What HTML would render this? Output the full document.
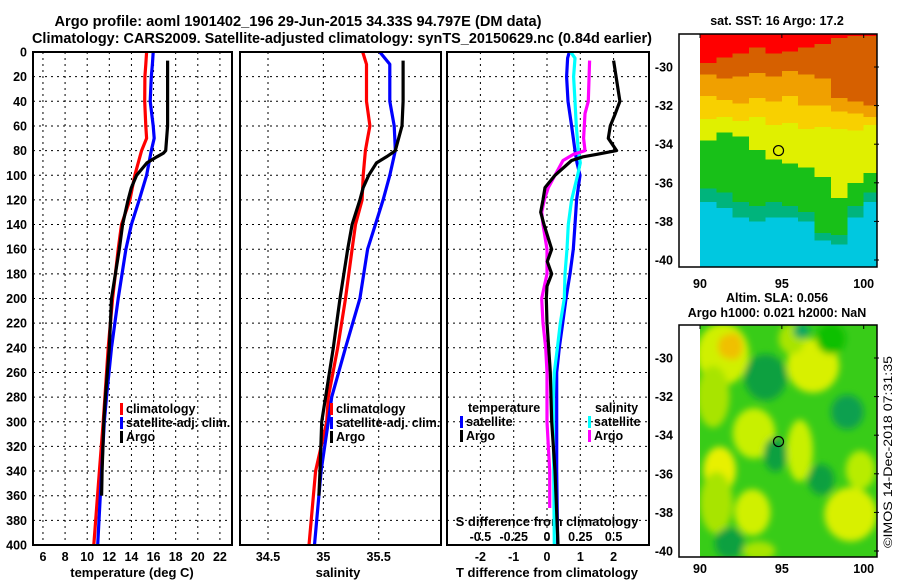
<!DOCTYPE html>
<html><head><meta charset="utf-8"><style>
html,body{margin:0;padding:0;background:#fff;}
svg{display:block;font-family:"Liberation Sans",sans-serif;font-weight:bold;}
</style></head><body>
<svg id="chart" width="900" height="580" viewBox="0 0 900 580" xmlns="http://www.w3.org/2000/svg">
<text x="298" y="26" font-size="14.5" text-anchor="middle" textLength="487" lengthAdjust="spacingAndGlyphs">Argo profile: aoml 1901402_196 29-Jun-2015 34.33S 94.797E (DM data)</text>
<text x="342" y="43" font-size="14.5" text-anchor="middle" textLength="620" lengthAdjust="spacingAndGlyphs">Climatology: CARS2009. Satellite-adjusted climatology: synTS_20150629.nc (0.84d earlier)</text>
<g id="layer"></g>
<text transform="translate(892,548) rotate(-90)" font-size="12" font-weight="normal" textLength="192" lengthAdjust="spacingAndGlyphs">©IMOS 14-Dec-2018 07:31:35</text>
</svg>
<script>
// ---------- data ----------
const depthTicks=[0,20,40,60,80,100,120,140,160,180,200,220,240,260,280,300,320,340,360,380,400];
const tempTicks=[6,8,10,12,14,16,18,20,22];
const salTicks=[34.5,35,35.5];
const tdiffTicks=[-2,-1,0,1,2];
const sdiffTicks=[-0.5,-0.25,0,0.25,0.5];
const sdiffLabels=["-0.5","-0.25","0","0.25","0.5"];

const climDepth=[0,10,20,40,60,70,80,100,120,140,160,200,240,280,300,340,400];
const climTemp=[15.37,15.3,15.22,15.2,15.3,15.37,14.92,14.3,13.86,13.1,12.8,12.3,11.9,11.6,11.45,11.1,10.6];
const satTemp=[15.97,15.9,15.8,15.7,15.97,16.06,15.8,15.37,14.7,14.0,13.5,12.8,12.2,11.75,11.55,11.3,10.95];
const argoDepth=[7,20,40,60,80,82,85,90,100,110,120,140,160,200,240,280,300,340,360];
const argoTemp=[17.27,17.27,17.27,17.27,17.1,16.9,16.3,15.4,14.47,14.0,13.7,13.2,12.9,12.2,12.0,11.65,11.5,11.35,11.3];

const climSal=[35.355,35.39,35.39,35.39,35.42,35.4,35.38,35.36,35.35,35.29,35.26,35.2,35.13,35.045,35.03,34.93,34.87];
const satSal=[35.51,35.6,35.6,35.6,35.64,35.645,35.65,35.6,35.54,35.47,35.4,35.33,35.2,35.075,35.045,34.98,34.92];
const argoSal=[35.72,35.72,35.72,35.71,35.65,35.62,35.57,35.48,35.41,35.36,35.33,35.26,35.22,35.15,35.09,35.02,34.985,34.97,34.96];

const dDepth=[0,5,20,40,60,80,90,100,120,140,160,180,200,220,240,260,280,300,340,400];
const satTdiff=[0.67,0.62,0.59,0.63,0.74,0.84,0.9,0.99,0.89,0.84,0.79,0.69,0.57,0.47,0.37,0.29,0.29,0.29,0.29,0.32];
const satSdiff=[0.178,0.21,0.2,0.21,0.22,0.235,0.25,0.23,0.185,0.16,0.15,0.135,0.13,0.1,0.078,0.055,0.047,0.047,0.05,0.055];
const argoDDepth=[7,40,50,60,70,80,83,85,88,100,110,120,130,140,160,170,180,190,200,220,240,260,300,340,400];
const argoTdiff=[2.0,2.19,2.05,1.9,1.84,2.09,1.5,1.08,0.74,0.24,-0.06,-0.12,-0.19,-0.09,0.14,0.01,0.14,0.0,-0.02,0.0,0.05,0.1,0.14,0.24,0.33];
const argoSdepth=[7,40,50,70,80,83,88,100,110,120,130,140,160,180,200,220,240,260,300,340,370];
const argoSdiff=[0.32,0.31,0.285,0.275,0.285,0.2,0.12,0.06,0.01,-0.02,-0.04,-0.03,0.0,0.0,-0.04,-0.03,-0.01,0.0,0.0,0.02,0.02];

// top map bands: boundary latitudes per longitude column
const mapLons=[90,91,92,93,94,95,96,97,98,99,100,101];
const bandColors=["#ff0000","#d66000","#f0a000","#f8d000","#e0f000","#18c018","#00b47c","#00c8e0"];
const bandBounds=[
 [-29.8,-29.5,-29.3,-29.0,-29.3,-29.2,-29.0,-28.8,-28.5,-28.4,-28.4,-28.4],
 [-30.4,-30.6,-30.5,-30.3,-30.5,-30.2,-30.4,-30.6,-31.6,-31.8,-32.0,-32.3],
 [-31.5,-31.7,-31.9,-31.6,-31.8,-31.5,-32.0,-32.0,-32.3,-32.4,-32.6,-32.6],
 [-32.7,-32.6,-32.8,-32.6,-33.0,-32.9,-33.2,-33.1,-33.2,-33.3,-33.0,-32.9],
 [-33.8,-33.4,-33.6,-34.3,-34.8,-35.0,-35.2,-35.7,-36.8,-36.0,-35.5,-35.3],
 [-36.3,-36.5,-37.0,-37.2,-37.0,-37.2,-37.5,-38.6,-38.7,-37.2,-36.5,-36.3],
 [-37.0,-37.3,-37.8,-38.0,-37.8,-37.8,-38.0,-39.0,-39.2,-37.8,-37.0,-36.8]
];
// bottom map SLA blobs
const blobLon=[91.4,90.8,96.9,93.3,91.2,93.2,99.2,96.1,95.6,91.0,99.8,92.0,91.6,94.0,94.6,99.0,97.4,91.8,96.2,98.0,93.6];
const blobLat=[-29.8,-32.0,-30.4,-33.9,-35.8,-38.0,-38.1,-34.8,-29.0,-37.5,-35.8,-29.4,-29.4,-31.0,-35.0,-32.8,-36.3,-39.6,-28.6,-29.0,-40.0];
const blobRx=[1.6,1.0,1.6,1.3,1.0,1.1,1.6,0.8,0.8,1.0,0.9,0.6,0.5,1.3,0.7,1.0,0.8,0.9,0.5,0.9,1.0];
const blobRy=[1.6,1.6,1.4,1.3,1.2,1.2,1.4,1.6,0.8,1.6,1.0,0.7,0.6,1.2,0.9,0.9,0.8,0.8,0.4,0.8,0.5];
const blobCol=["#d0f000","#a8e400","#d8f000","#c8f000","#e8f000","#d0f000","#d8f000","#c8f000","#a8e400","#a8e400","#b8ec00","#f0c000","#f0c000","#10a040","#10a040","#10a050","#10a040","#10a040","#10a860","#10c000","#a8e400"];

// ---------- scales ----------
const yD=d=>52+d*1.2325;
const xT=t=>33+(t-5.1)*11.06;
const xS=s=>240+(s-34.247)*110.7;
const xTd=t=>547+t*33.3;
const xSd=s=>547+s*133.2;
const mxLon=l=>700+(l-90)*16.37;
const myTop=l=>67+(-30-l)*19.3;
const myBot=l=>358+(-30-l)*19.3;

const NS="http://www.w3.org/2000/svg";
const layer=document.getElementById('layer');
function mk(tag,attrs,parent){const e=document.createElementNS(NS,tag);for(const k in attrs)e.setAttribute(k,attrs[k]);(parent||layer).appendChild(e);return e;}
function txt(x,y,s,anchor,size,parent){const e=mk('text',{x:x,y:y,'font-size':size||12,'text-anchor':anchor||'middle'},parent);e.textContent=s;return e;}

// ---------- profile panels ----------
const panels=[{x0:33,x1:232},{x0:240,x1:441},{x0:447,x1:649}];
panels.forEach((p,i)=>{
  const g=mk('g',{});
  
  
  depthTicks.forEach(d=>{
    if(d>0&&d<400){const l=mk('line',{x1:p.x0,x2:p.x1,y1:yD(d),y2:yD(d),stroke:'#000','stroke-width':1,'stroke-dasharray':'2,4'},g);
    
    }
  });
});
function vgrid(ticks,fx,x0,x1){ticks.forEach(t=>{const x=fx(t);if(x>x0+2&&x<x1-2){const l=mk('line',{x1:x,x2:x,y1:52,y2:545,stroke:'#000','stroke-width':1,'stroke-dasharray':'2,4'});

}});}
vgrid(tempTicks,xT,33,232);vgrid(salTicks,xS,240,441);vgrid(tdiffTicks,xTd,447,649);

depthTicks.forEach(d=>{const t=txt(27,yD(d)+4.5,String(d),'end',12.5);

});
tempTicks.forEach(v=>{const t=txt(xT(v),561,String(v),'middle',12.5);

});
salTicks.forEach(v=>{const t=txt(xS(v),561,String(v),'middle',12.5);

});
tdiffTicks.forEach(v=>{const t=txt(xTd(v),561,String(v),'middle',12.5);

});
sdiffTicks.forEach((v,i)=>{const t=txt(xSd(v),541,sdiffLabels[i],'middle',12.5);

});
let at=txt(132,577,'temperature (deg C)','middle',13);


at=txt(338,577,'salinity','middle',13);


at=txt(547,577,'T difference from climatology','middle',13);


at=txt(547,526,'S difference from climatology','middle',13);



function line(depths,vals,fx,color,name){
  const pts=depths.map((d,i)=>fx(vals[i]).toFixed(1)+','+yD(d).toFixed(1)).join(' ');
  const e=mk('polyline',{points:pts,fill:'none',stroke:color,'stroke-width':3.2,'stroke-linejoin':'round'});
  
  
}
line(climDepth,climTemp,xT,'#ff0000','climatology-temperature-line');
line(climDepth,satTemp,xT,'#0000ff','satellite-temperature-line');
line(argoDepth,argoTemp,xT,'#000','argo-temperature-line');
line(climDepth,climSal,xS,'#ff0000','climatology-salinity-line');
line(climDepth,satSal,xS,'#0000ff','satellite-salinity-line');
line(argoDepth,argoSal,xS,'#000','argo-salinity-line');
line(dDepth,satTdiff,xTd,'#0000ff','satellite-tdiff-line');
line(dDepth,satSdiff,xSd,'#00ffff','satellite-sdiff-line');
line(argoSdepth,argoSdiff,xSd,'#ff00ff','argo-sdiff-line');
line(argoDDepth,argoTdiff,xTd,'#000','argo-tdiff-line');

panels.forEach(p=>{const r=mk('rect',{x:p.x0,y:52,width:p.x1-p.x0,height:493,fill:'none',stroke:'#000','stroke-width':2});

});

function legend(x,y,color,label,name){
  const g=mk('g',{});
  
  
  mk('rect',{x:x,y:y-10,width:3,height:12,fill:color},g);
  txt(x+6,y,label,'start',12.5,g);
}
legend(120,413,'#ff0000','climatology','legend-climatology-temp');
legend(120,427,'#0000ff','satellite-adj. clim.','legend-satellite-temp');
legend(120,441,'#000','Argo','legend-argo-temp');
legend(330,413,'#ff0000','climatology','legend-climatology-sal');
legend(330,427,'#0000ff','satellite-adj. clim.','legend-satellite-sal');
legend(330,441,'#000','Argo','legend-argo-sal');
let lt=txt(468,412,'temperature','start',12.5);


legend(460,426,'#0000ff','satellite','legend-satellite-tdiff');
legend(460,440,'#000','Argo','legend-argo-tdiff');
lt=txt(595,412,'salinity','start',12.5);


legend(588,426,'#00ffff','satellite','legend-satellite-sdiff');
legend(588,440,'#ff00ff','Argo','legend-argo-sdiff');

// ---------- maps ----------
const gTop=mk('g',{});


const clipT=mk('clipPath',{id:'clipTop'});mk('rect',{x:700,y:34,width:177,height:233},clipT);
const gT=mk('g',{'clip-path':'url(#clipTop)','shape-rendering':'crispEdges'},gTop);
mk('rect',{x:700,y:34,width:177,height:233,fill:bandColors[0]},gT);
bandBounds.forEach((b,bi)=>{
  let d='M700,270';
  mapLons.forEach((lon,i)=>{const x0=mxLon(lon),x1=mxLon(lon+1);d+=' L'+x0.toFixed(1)+','+myTop(b[i]).toFixed(1)+' L'+x1.toFixed(1)+','+myTop(b[i]).toFixed(1);});
  d+=' L'+mxLon(102)+',270 Z';
  const p=mk('path',{d:d,fill:bandColors[bi+1]},gT);
  
  
});
const mkTop=mk('circle',{cx:mxLon(94.797),cy:myTop(-34.33),r:5,fill:'none',stroke:'#000','stroke-width':1.2},gTop);


mk('rect',{x:679,y:34,width:198,height:233,fill:'none',stroke:'#000','stroke-width':1.5},gTop);
[-30,-32,-34,-36,-38,-40].forEach(l=>{const y=myTop(l);mk('line',{x1:874,x2:879,y1:y,y2:y,stroke:'#000'},gTop);
const t=txt(673,y+4.5,String(l),'end',12.5,gTop);

});
[90,95,100].forEach(l=>{const x=mxLon(l);mk('line',{x1:x,x2:x,y1:34,y2:38,stroke:'#000'},gTop);
const t=txt(x,288,String(l),'middle',12.5,gTop);

});
let mt=txt(777,25,'sat. SST: 16 Argo: 17.2','middle',12.5,gTop);



const gBot=mk('g',{});


const flt=mk('filter',{id:'blur',x:'-50%',y:'-50%',width:'200%',height:'200%'});
mk('feGaussianBlur',{stdDeviation:'3.5'},flt);
const clipB=mk('clipPath',{id:'clipBot'});mk('rect',{x:700,y:325,width:177,height:232},clipB);
const gB0=mk('g',{'clip-path':'url(#clipBot)'},gBot);
mk('rect',{x:700,y:325,width:177,height:232,fill:'#38cc18'},gB0);
const gB=mk('g',{filter:'url(#blur)'},gB0);
blobLon.forEach((lon,i)=>{
  const e=mk('ellipse',{cx:mxLon(lon),cy:myBot(blobLat[i]),rx:blobRx[i]*16.37,ry:blobRy[i]*19.3,fill:blobCol[i]},gB);
  
  
});
const mkBot=mk('circle',{cx:mxLon(94.797),cy:myBot(-34.33),r:5,fill:'none',stroke:'#000','stroke-width':1.2},gBot);


mk('rect',{x:679,y:325,width:198,height:232,fill:'none',stroke:'#000','stroke-width':1.5},gBot);
[-30,-32,-34,-36,-38,-40].forEach(l=>{const y=myBot(l);mk('line',{x1:874,x2:879,y1:y,y2:y,stroke:'#000'},gBot);
const t=txt(673,y+4.5,String(l),'end',12.5,gBot);

});
[90,95,100].forEach(l=>{const x=mxLon(l);mk('line',{x1:x,x2:x,y1:325,y2:329,stroke:'#000'},gBot);
const t=txt(x,573,String(l),'middle',12.5,gBot);

});
mt=txt(777,302,'Altim. SLA: 0.056','middle',12.5,gBot);


mt=txt(777,317,'Argo h1000: 0.021 h2000: NaN','middle',12.5,gBot);


</script>
</body></html>
